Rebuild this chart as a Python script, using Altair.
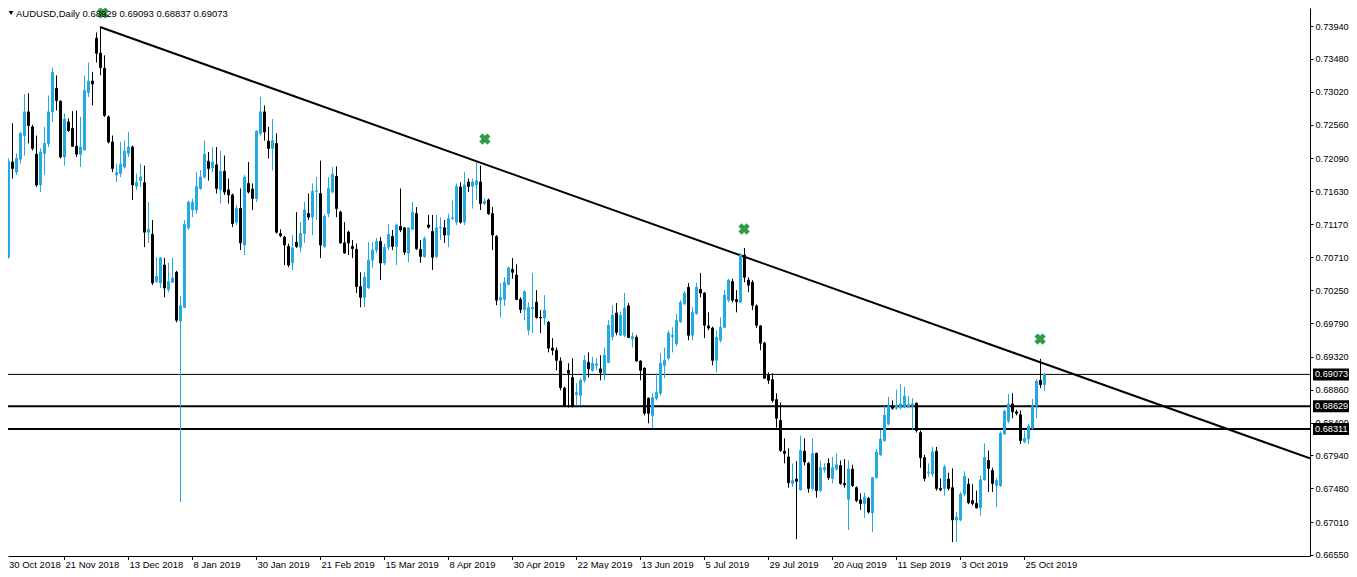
import altair as alt
import pandas as pd

# ---------------- data (AUDUSD daily, 30 Oct 2018 .. 1 Nov 2019) ----------------
opens = [
    0.7050, 0.7104, 0.7071, 0.7204, 0.7190, 0.7208, 0.7241, 0.7274, 0.7253, 0.7215,
    0.7172, 0.7216, 0.7230, 0.7274, 0.7307, 0.7289, 0.7211, 0.7260, 0.7251, 0.7226,
    0.7215, 0.7221, 0.7301, 0.7317, 0.7377, 0.7356, 0.7335, 0.7267, 0.7232, 0.7186,
    0.7188, 0.7197, 0.7216, 0.7225, 0.7170, 0.7178, 0.7175, 0.7106, 0.7103, 0.7037,
    0.7035, 0.7060, 0.7026, 0.7036, 0.7050, 0.6982, 0.7001, 0.7112, 0.7137, 0.7137,
    0.7167, 0.7183, 0.7205, 0.7196, 0.7200, 0.7165, 0.7191, 0.7165, 0.7158, 0.7120,
    0.7139, 0.7088, 0.7174, 0.7166, 0.7153, 0.7244, 0.7274, 0.7233, 0.7223, 0.7230,
    0.7104, 0.7099, 0.7086, 0.7063, 0.7092, 0.7085, 0.7104, 0.7132, 0.7127, 0.7163,
    0.7160, 0.7086, 0.7132, 0.7162, 0.7184, 0.7134, 0.7091, 0.7106, 0.7086, 0.7082,
    0.7030, 0.7015, 0.7028, 0.7067, 0.7081, 0.7093, 0.7063, 0.7085, 0.7100, 0.7086,
    0.7114, 0.7112, 0.7077, 0.7110, 0.7132, 0.7082, 0.7072, 0.7116, 0.7107, 0.7072,
    0.7112, 0.7112, 0.7102, 0.7125, 0.7120, 0.7169, 0.7120, 0.7176, 0.7170, 0.7172,
    0.7176, 0.7146, 0.7151, 0.7132, 0.7100, 0.7011, 0.7012, 0.7033, 0.7054, 0.7046,
    0.7012, 0.6998, 0.6969, 0.6999, 0.7008, 0.6987, 0.6986, 0.6980, 0.6944, 0.6941,
    0.6926, 0.6888, 0.6913, 0.6903, 0.6879, 0.6878, 0.6899, 0.6924, 0.6913, 0.6920,
    0.6915, 0.6908, 0.6924, 0.6960, 0.6993, 0.6962, 0.6962, 0.7003, 0.6957, 0.6959,
    0.6926, 0.6916, 0.6874, 0.6850, 0.6874, 0.6881, 0.6920, 0.6930, 0.6960, 0.6950,
    0.6981, 0.7006, 0.7029, 0.6962, 0.6992, 0.7026, 0.7021, 0.6975, 0.6972, 0.6927,
    0.6955, 0.6973, 0.7011, 0.7037, 0.7012, 0.7008, 0.7074, 0.7039, 0.7036, 0.7003,
    0.6975, 0.6951, 0.6906, 0.6900, 0.6872, 0.6843, 0.6800, 0.6792, 0.6755, 0.6761,
    0.6746, 0.6800, 0.6783, 0.6748, 0.6797, 0.6745, 0.6774, 0.6783, 0.6762, 0.6775,
    0.6780, 0.6755, 0.6733, 0.6775, 0.6749, 0.6732, 0.6727, 0.6734, 0.6714, 0.6763,
    0.6795, 0.6815, 0.6838, 0.6863, 0.6860, 0.6861, 0.6862, 0.6862, 0.6863, 0.6867,
    0.6826, 0.6791, 0.6770, 0.6768, 0.6800, 0.6748, 0.6748, 0.6761, 0.6749, 0.6704,
    0.6704, 0.6740, 0.6754, 0.6731, 0.6727, 0.6721, 0.6760, 0.6787, 0.6773, 0.6752,
    0.6752, 0.6824, 0.6842, 0.6866, 0.6855, 0.6851, 0.6813, 0.6817, 0.6832, 0.6863,
    0.6899, 0.68929,
]
highs = [
    0.7125, 0.7108, 0.7209, 0.7258, 0.7216, 0.7246, 0.7299, 0.7300, 0.7256, 0.7241,
    0.7223, 0.7253, 0.7297, 0.7336, 0.7325, 0.7290, 0.7272, 0.7265, 0.7275, 0.7276,
    0.7267, 0.7325, 0.7343, 0.7330, 0.7385, 0.7393, 0.7353, 0.7269, 0.7241, 0.7202,
    0.7232, 0.7234, 0.7246, 0.7227, 0.7188, 0.7202, 0.7199, 0.7148, 0.7123, 0.7071,
    0.7071, 0.7070, 0.7063, 0.7070, 0.7052, 0.7017, 0.7123, 0.7150, 0.7153, 0.7190,
    0.7193, 0.7234, 0.7218, 0.7225, 0.7225, 0.7220, 0.7213, 0.7181, 0.7160, 0.7144,
    0.7167, 0.7186, 0.7204, 0.7174, 0.7248, 0.7295, 0.7283, 0.7253, 0.7264, 0.7244,
    0.7110, 0.7101, 0.7090, 0.7102, 0.7134, 0.7120, 0.7148, 0.7160, 0.7174, 0.7183,
    0.7206, 0.7131, 0.7183, 0.7197, 0.7198, 0.7136, 0.7120, 0.7108, 0.7095, 0.7090,
    0.7050, 0.7050, 0.7092, 0.7092, 0.7098, 0.7099, 0.7090, 0.7117, 0.7109, 0.7118,
    0.7167, 0.7113, 0.7113, 0.7148, 0.7141, 0.7095, 0.7100, 0.7130, 0.7130, 0.7130,
    0.7127, 0.7123, 0.7132, 0.7150, 0.7174, 0.7176, 0.7190, 0.7181, 0.7181, 0.7204,
    0.7199, 0.7153, 0.7153, 0.7141, 0.7102, 0.7035, 0.7043, 0.7058, 0.7070, 0.7061,
    0.7015, 0.7025, 0.7008, 0.7049, 0.7025, 0.6997, 0.7018, 0.6982, 0.6958, 0.6945,
    0.6931, 0.6890, 0.6923, 0.6930, 0.6895, 0.6902, 0.6934, 0.6938, 0.6932, 0.6930,
    0.6934, 0.6945, 0.6983, 0.7004, 0.7007, 0.6995, 0.7021, 0.7007, 0.6966, 0.6962,
    0.6927, 0.6917, 0.6875, 0.6881, 0.6909, 0.6937, 0.6945, 0.6969, 0.6973, 0.6992,
    0.7011, 0.7024, 0.7035, 0.7001, 0.7035, 0.7049, 0.7022, 0.6994, 0.6974, 0.6969,
    0.6987, 0.7025, 0.7041, 0.7041, 0.7025, 0.7077, 0.7084, 0.7043, 0.7039, 0.7005,
    0.6976, 0.6953, 0.6910, 0.6909, 0.6881, 0.6868, 0.6818, 0.6804, 0.6783, 0.6786,
    0.6822, 0.6818, 0.6785, 0.6818, 0.6798, 0.6787, 0.6783, 0.6790, 0.6792, 0.6797,
    0.6787, 0.6789, 0.6787, 0.6781, 0.6751, 0.6741, 0.6742, 0.6736, 0.6764, 0.6803,
    0.6830, 0.6863, 0.6876, 0.6871, 0.6886, 0.6894, 0.6890, 0.6877, 0.6874, 0.6868,
    0.6829, 0.6795, 0.6783, 0.6806, 0.6806, 0.6762, 0.6781, 0.6770, 0.6776, 0.6715,
    0.6743, 0.6772, 0.6762, 0.6754, 0.6745, 0.6766, 0.6811, 0.6801, 0.6777, 0.6763,
    0.6828, 0.6858, 0.6880, 0.6881, 0.6858, 0.6857, 0.6829, 0.6838, 0.6873, 0.6901,
    0.6929, 0.69093,
]
lows = [
    0.7046, 0.7066, 0.7069, 0.7181, 0.7186, 0.7202, 0.7213, 0.7230, 0.7220, 0.7169,
    0.7162, 0.7186, 0.7225, 0.7260, 0.7276, 0.7209, 0.7199, 0.7246, 0.7225, 0.7211,
    0.7197, 0.7220, 0.7295, 0.7283, 0.7343, 0.7325, 0.7267, 0.7230, 0.7190, 0.7176,
    0.7183, 0.7195, 0.7211, 0.7151, 0.7165, 0.7169, 0.7085, 0.7091, 0.7032, 0.7035,
    0.7028, 0.7015, 0.7022, 0.7035, 0.6980, 0.6729, 0.7000, 0.7109, 0.7127, 0.7132,
    0.7165, 0.7181, 0.7178, 0.7190, 0.7160, 0.7146, 0.7158, 0.7146, 0.7113, 0.7116,
    0.7081, 0.7074, 0.7160, 0.7137, 0.7148, 0.7241, 0.7234, 0.7209, 0.7192, 0.7104,
    0.7099, 0.7060, 0.7057, 0.7053, 0.7084, 0.7078, 0.7091, 0.7123, 0.7102, 0.7123,
    0.7070, 0.7084, 0.7127, 0.7160, 0.7127, 0.7090, 0.7076, 0.7074, 0.7070, 0.7021,
    0.7001, 0.7001, 0.7027, 0.7056, 0.7077, 0.7039, 0.7060, 0.7081, 0.7081, 0.7060,
    0.7106, 0.7074, 0.7064, 0.7109, 0.7081, 0.7063, 0.7070, 0.7111, 0.7053, 0.7070,
    0.7095, 0.7091, 0.7085, 0.7123, 0.7116, 0.7118, 0.7116, 0.7162, 0.7139, 0.7151,
    0.7137, 0.7144, 0.7130, 0.7081, 0.7004, 0.6987, 0.7003, 0.7032, 0.7041, 0.7011,
    0.6993, 0.6983, 0.6962, 0.6965, 0.6985, 0.6965, 0.6976, 0.6938, 0.6934, 0.6913,
    0.6885, 0.6862, 0.6861, 0.6861, 0.6864, 0.6864, 0.6896, 0.6903, 0.6911, 0.6913,
    0.6899, 0.6899, 0.6923, 0.6955, 0.6962, 0.6961, 0.6959, 0.6958, 0.6945, 0.6925,
    0.6899, 0.6850, 0.6839, 0.6832, 0.6871, 0.6878, 0.6902, 0.6927, 0.6938, 0.6947,
    0.6979, 0.7004, 0.6955, 0.6955, 0.6991, 0.7015, 0.6958, 0.6969, 0.6920, 0.6910,
    0.6952, 0.6972, 0.7008, 0.7008, 0.6994, 0.7007, 0.7036, 0.7022, 0.6997, 0.6972,
    0.6941, 0.6901, 0.6894, 0.6868, 0.6833, 0.6799, 0.6783, 0.6749, 0.6750, 0.6677,
    0.6745, 0.6780, 0.6742, 0.6745, 0.6735, 0.6743, 0.6770, 0.6760, 0.6755, 0.6773,
    0.6753, 0.6749, 0.6690, 0.6750, 0.6729, 0.6718, 0.6707, 0.6713, 0.6687, 0.6762,
    0.6793, 0.6813, 0.6836, 0.6858, 0.6858, 0.6858, 0.6860, 0.6860, 0.6830, 0.6826,
    0.6777, 0.6758, 0.6764, 0.6764, 0.6745, 0.6744, 0.6738, 0.6745, 0.6673, 0.6673,
    0.6702, 0.6737, 0.6726, 0.6724, 0.6720, 0.6710, 0.6759, 0.6743, 0.6743, 0.6722,
    0.6750, 0.6823, 0.6839, 0.6846, 0.6850, 0.6810, 0.6811, 0.6810, 0.6830, 0.6846,
    0.6888, 0.68837,
]
closes = [
    0.7120, 0.7070, 0.7205, 0.7195, 0.7209, 0.7244, 0.7274, 0.7255, 0.7223, 0.7172,
    0.7218, 0.7230, 0.7274, 0.7329, 0.7290, 0.7211, 0.7264, 0.7248, 0.7226, 0.7215,
    0.7225, 0.7304, 0.7317, 0.7313, 0.7356, 0.7336, 0.7269, 0.7232, 0.7195, 0.7189,
    0.7201, 0.7219, 0.7225, 0.7172, 0.7176, 0.7183, 0.7106, 0.7110, 0.7035, 0.7044,
    0.7070, 0.7028, 0.7037, 0.7042, 0.6983, 0.7003, 0.7117, 0.7148, 0.7148, 0.7170,
    0.7183, 0.7215, 0.7195, 0.7204, 0.7167, 0.7191, 0.7162, 0.7158, 0.7118, 0.7139,
    0.7091, 0.7183, 0.7162, 0.7153, 0.7247, 0.7274, 0.7246, 0.7223, 0.7234, 0.7106,
    0.7101, 0.7088, 0.7060, 0.7084, 0.7086, 0.7104, 0.7137, 0.7127, 0.7163, 0.7164,
    0.7088, 0.7128, 0.7167, 0.7187, 0.7139, 0.7091, 0.7077, 0.7091, 0.7083, 0.7030,
    0.7015, 0.7043, 0.7067, 0.7081, 0.7093, 0.7063, 0.7085, 0.7103, 0.7086, 0.7116,
    0.7109, 0.7078, 0.7112, 0.7134, 0.7083, 0.7072, 0.7097, 0.7113, 0.7071, 0.7112,
    0.7113, 0.7102, 0.7125, 0.7126, 0.7170, 0.7120, 0.7172, 0.7170, 0.7176, 0.7178,
    0.7146, 0.7149, 0.7132, 0.7102, 0.7011, 0.7015, 0.7036, 0.7056, 0.7050, 0.7012,
    0.6998, 0.7023, 0.7001, 0.7001, 0.6987, 0.6986, 0.6997, 0.6944, 0.6941, 0.6927,
    0.6889, 0.6863, 0.6909, 0.6863, 0.6882, 0.6899, 0.6927, 0.6915, 0.6923, 0.6922,
    0.6910, 0.6934, 0.6976, 0.6990, 0.6966, 0.6990, 0.7000, 0.6959, 0.6960, 0.6926,
    0.6913, 0.6853, 0.6853, 0.6875, 0.6882, 0.6923, 0.6927, 0.6965, 0.6962, 0.6983,
    0.7008, 0.7021, 0.6962, 0.6994, 0.7029, 0.7021, 0.6976, 0.6972, 0.6927, 0.6959,
    0.6973, 0.7018, 0.7039, 0.7011, 0.7009, 0.7074, 0.7043, 0.7032, 0.7004, 0.6976,
    0.6951, 0.6902, 0.6899, 0.6871, 0.6846, 0.6801, 0.6797, 0.6756, 0.6759, 0.6758,
    0.6801, 0.6785, 0.6748, 0.6797, 0.6745, 0.6777, 0.6777, 0.6763, 0.6777, 0.6781,
    0.6755, 0.6753, 0.6775, 0.6752, 0.6731, 0.6727, 0.6736, 0.6715, 0.6763, 0.6799,
    0.6817, 0.6850, 0.6863, 0.6860, 0.6864, 0.6866, 0.6877, 0.6865, 0.6866, 0.6829,
    0.6791, 0.6762, 0.6771, 0.6799, 0.6748, 0.6746, 0.6778, 0.6748, 0.6704, 0.6708,
    0.6740, 0.6765, 0.6728, 0.6727, 0.6721, 0.6760, 0.6791, 0.6776, 0.6755, 0.6759,
    0.6825, 0.6856, 0.6866, 0.6855, 0.6853, 0.6815, 0.6818, 0.6835, 0.6863, 0.6898,
    0.6893, 0.69073,
]

date_labels = ["30 Oct 2018", "21 Nov 2018", "13 Dec 2018", "8 Jan 2019", "30 Jan 2019",
               "21 Feb 2019", "15 Mar 2019", "8 Apr 2019", "30 Apr 2019", "22 May 2019",
               "13 Jun 2019", "5 Jul 2019", "29 Jul 2019", "20 Aug 2019", "11 Sep 2019",
               "3 Oct 2019", "25 Oct 2019"]
date_label_bars = [0, 16, 32, 48, 64, 80, 96, 112, 128, 144, 160, 176, 192, 208, 224, 240, 256]

price_ticks = [0.73940, 0.73480, 0.73020, 0.72560, 0.72090, 0.71630, 0.71170, 0.70710,
               0.70250, 0.69790, 0.69320, 0.68860, 0.68400, 0.67940, 0.67480, 0.67010, 0.66550]

level_prices = [0.69073, 0.68629, 0.68311]
level_weights = [1, 2, 2]

trend_bars = [24.875, 327.375]
trend_prices = [0.73926, 0.67899]

marker_bars = [25.6, 121.1, 185.9, 259.9]
marker_prices = [0.74122, 0.72361, 0.71104, 0.69567]

symbol = "AUDUSD,Daily"

# ---------------- styling ----------------
BULL = "#26A8E0"
BEAR = "#000000"
GREEN = "#2E9F48"
FONT = "Liberation Sans"
FS = 9.5
FSA = 9.2
W, H = 1302, 548
X0, X1 = 1.875, 327.375  # visible bar range

n = len(closes)
candles = pd.DataFrame({"bar": list(range(n)), "open": opens, "high": highs,
                        "low": lows, "close": closes})
candles["dir"] = ["up" if c >= o else "down" for o, c in zip(opens, closes)]

levels = pd.DataFrame({"price": level_prices, "w": level_weights,
                       "label": [f"{p:.5f}" for p in level_prices]})
trend = pd.DataFrame({"bar": trend_bars, "price": trend_prices})
markers = pd.DataFrame({"bar": marker_bars, "price": marker_prices})
dates = pd.DataFrame({"bar": date_label_bars, "label": date_labels})

xscale = alt.Scale(domain=[X0, X1], nice=False, zero=False, padding=0)
yscale = alt.Scale(domain=[0.66536, 0.741915], nice=False, zero=False, padding=0)
cscale = alt.Scale(domain=["up", "down"], range=[BULL, BEAR])

xaxis = alt.Axis(labels=False, ticks=False, grid=False, title=None,
                 domainColor="black", domainWidth=1)
yaxis = alt.Axis(orient="right", values=price_ticks, format=".5f", grid=False,
                 tickSize=3, tickColor="black", labelPadding=2, labelFont=FONT,
                 labelFontSize=FSA, labelColor="black", domainColor="black",
                 title=None, labelFlush=False, labelOverlap=False, labelBound=False)


def xs(field="bar:Q"):
    return alt.X(field, scale=xscale, axis=xaxis)


def ys(field):
    return alt.Y(field, scale=yscale, axis=yaxis)


wicks = alt.Chart(candles).mark_rule(strokeWidth=1).encode(
    x=xs(), y=ys("low:Q"), y2="high:Q",
    color=alt.Color("dir:N", scale=cscale, legend=None))

bodies = alt.Chart(candles).mark_bar(size=2, strokeWidth=1).encode(
    x=xs(), y=ys("open:Q"), y2="close:Q",
    fill=alt.Fill("dir:N", scale=cscale, legend=None),
    stroke=alt.Stroke("dir:N", scale=cscale, legend=None))

level_lines = alt.Chart(levels).mark_rule(color="black").encode(
    y=ys("price:Q"), strokeWidth=alt.StrokeWidth("w:Q", scale=None))

trend_line = alt.Chart(trend).mark_line(color="black", strokeWidth=2, clip=True).encode(
    x=xs(), y=ys("price:Q"))

marks_x = alt.Chart(markers).mark_point(shape="cross", angle=45, filled=True, size=130,
                                        color=GREEN, opacity=1).encode(
    x=xs(), y=ys("price:Q"))

boxes = alt.Chart(levels).mark_rule(color="black", strokeWidth=12, clip=False).encode(
    y=ys("price:Q"), x=alt.value(W + 3), x2=alt.value(W + 39))

box_text = alt.Chart(levels).mark_text(align="left", baseline="middle", color="white",
                                       font=FONT, fontSize=FSA, clip=False).encode(
    y=ys("price:Q"), x=alt.value(W + 5), text="label:N")

date_ticks = alt.Chart(dates).mark_rule(color="black", clip=False).encode(
    x=xs(), y=alt.value(H), y2=alt.value(H + 4))

# the first date label is kept fully inside the visible area
date_text = alt.Chart(dates).transform_calculate(
    lx=f"max(datum.bar, {X0})"
).mark_text(align="left", baseline="top", font=FONT, fontSize=FS,
            color="black", clip=False, dx=1).encode(
    x=xs("lx:Q"), y=alt.value(H + 4), text="label:N")

title_str = f"{symbol}  {opens[-1]:.5f} {highs[-1]:.5f} {lows[-1]:.5f} {closes[-1]:.5f}"
title_df = pd.DataFrame({"t": [title_str]})
title = alt.Chart(title_df).mark_text(align="left", baseline="alphabetic", font=FONT,
                                      fontSize=FS, color="black").encode(
    x=alt.value(8), y=alt.value(9), text="t:N")
tri = alt.Chart(title_df).mark_point(shape="triangle-down", filled=True, size=22,
                                     color="black", opacity=1).encode(
    x=alt.value(3), y=alt.value(5))

chart = alt.layer(level_lines, trend_line, wicks, bodies, marks_x, boxes, box_text,
                  date_ticks, date_text, title, tri).properties(
    width=W, height=H,
    autosize=alt.AutoSizeParams(type="none"),
    padding={"left": 0, "top": 0, "right": 39, "bottom": 13},
).configure_view(stroke=None)

chart.save("out.html", embed_options={"renderer": "svg", "actions": False})
